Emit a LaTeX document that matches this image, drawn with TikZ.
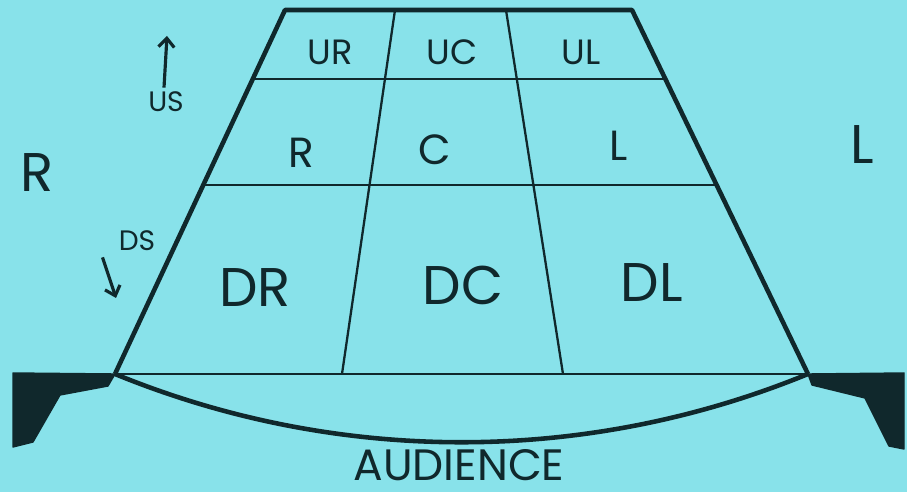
\documentclass[tikz,border=0pt]{standalone}
\usepackage{fontspec}
\setmainfont{Poppins}
\usetikzlibrary{arrows.meta}
\definecolor{stagecyan}{RGB}{136,226,234}
\definecolor{ink}{RGB}{16,40,44}
\begin{document}
\begin{tikzpicture}[x=0.02cm, y=-0.02cm, line join=round,
		edge/.style={ink, line width=2.6pt},
		grid/.style={ink, line width=1.3pt},
		zone/.style={ink, inner sep=0pt, font=\fontsize{31}{33}\selectfont},
		mid/.style={ink, inner sep=0pt, font=\fontsize{24}{26}\selectfont},
		small/.style={ink, inner sep=0pt, font=\fontsize{20}{22}\selectfont},
		note/.style={ink, inner sep=0pt, font=\fontsize{16}{18}\selectfont},
		wing/.style={fill=ink, draw=ink, line width=0.8pt}]
	\fill[stagecyan] (0,0) rectangle (907,492);
	\useasboundingbox (0,0) rectangle (907,492);
	% stage corners
	\coordinate (tl) at (285,10);
	\coordinate (tr) at (632,10);
	\coordinate (bl) at (115,374);
	\coordinate (br) at (808,374);
	% grid points
	\coordinate (v1t) at (395,10);
	\coordinate (v1b) at (342,374);
	\coordinate (v2t) at (506,10);
	\coordinate (v2b) at (563,374);
	\coordinate (h1l) at (254,79);
	\coordinate (h1r) at (665,79);
	\coordinate (h2l) at (205,185);
	\coordinate (h2r) at (716,185);
	% wings
	\fill[wing] (13,373) -- (bl) -- (108,386) -- (60,395) -- (33,442) -- (13,447) -- cycle;
	\fill[wing] (br) -- (904,373) -- (904,449) -- (889,446) -- (865,398) -- (812,385) -- cycle;
	% grid
	\draw[grid] (h1l) -- (h1r);
	\draw[grid] (h2l) -- (h2r);
	\draw[grid] (v1t) -- (v1b);
	\draw[grid] (v2t) -- (v2b);
	\draw[grid] (bl) -- (br);
	\draw[edge] (bl) -- (tl) -- (tr) -- (br);
	\draw[edge] (bl) .. controls (337,465) and (586,465) .. (br);
	% areas
	\node[small] (ur) at (330,52) {UR};
	\node[small] (uc) at (452,52) {UC};
	\node[small] (ul) at (581,52) {UL};
	\node[mid] (r) at (301,153) {R};
	\node[mid] (c) at (435,150) {C};
	\node[mid] (l) at (619,146) {L};
	\node[zone] (dr) at (255,288) {DR};
	\node[zone] (dc) at (463,285) {DC};
	\node[zone] (dl) at (652,283) {DL};
	\node[zone] (houseR) at (37,173) {R};
	\node[zone] (houseL) at (862,145) {L};
	% directions
	\node[note] (us) at (166,102) {US};
	\coordinate (usTip) at (167,36);
	\draw[ink, line width=1.8pt, -{Straight Barb[length=5pt,width=9pt]}] (us.north) ++(-2,-4) -- (usTip);
	\node[note] (ds) at (137,241) {DS};
	\coordinate (dsTip) at (116,298);
	\draw[ink, line width=1.8pt, -{Straight Barb[length=5pt,width=9pt]}] (ds.south west) ++(-16,6) -- (dsTip);
	\node[ink, inner sep=0pt, font=\fontsize{25}{27}\selectfont] (audience) at (459,465) {AUDIENCE};
\end{tikzpicture}
\end{document}
